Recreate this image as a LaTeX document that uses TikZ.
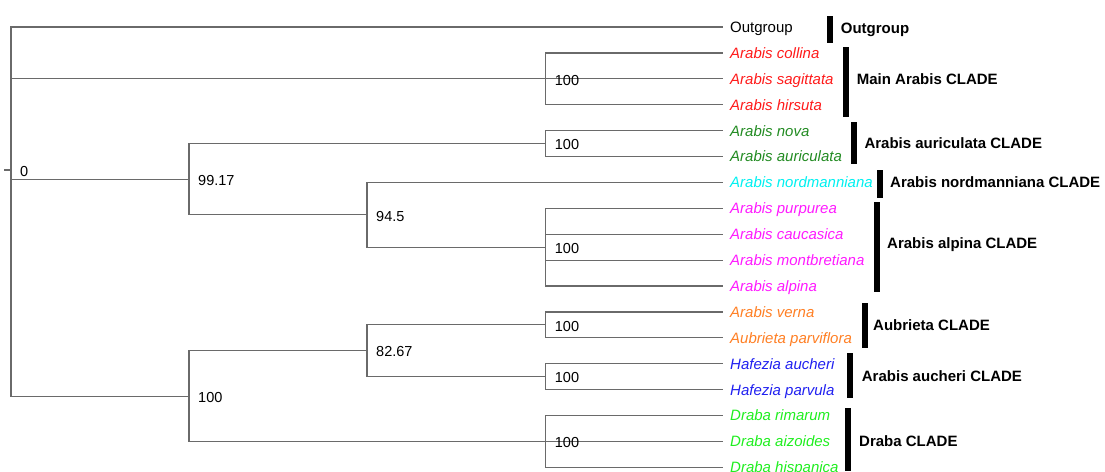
\documentclass[tikz,border=0pt]{standalone}
\usepackage{fontspec}
\setmainfont{Liberation Sans}
\definecolor{lred}{HTML}{FF1A1A}
\definecolor{lfor}{HTML}{228B22}
\definecolor{lcyan}{HTML}{00F0F0}
\definecolor{lmag}{HTML}{FF1AFF}
\definecolor{lora}{HTML}{FF7F24}
\definecolor{lblue}{HTML}{2020F0}
\definecolor{llime}{HTML}{1FEE1F}
\definecolor{branchgray}{HTML}{6A6A6A}
\tikzset{
  branch/.style={draw=branchgray, line width=1.2pt},
  leaf/.style={anchor=base west, inner sep=0pt, xshift=7.3pt, yshift=-5.4pt,
    font=\fontsize{15}{18}\selectfont\itshape},
  num/.style={anchor=base west, inner sep=0pt, xshift=9pt, yshift=-6.2pt,
    font=\fontsize{14.5}{17}\selectfont},
  cladelabel/.style={anchor=base west, inner sep=0pt, yshift=-5.4pt,
    font=\fontsize{15}{18}\selectfont\bfseries},
  cladebar/.style={fill=black, draw=none}
}
\begin{document}
\begin{tikzpicture}[x=1pt,y=-1pt]
\useasboundingbox (0,0) rectangle (1105,471);
% leaf tips
\coordinate (t0) at (722.7,27);
\coordinate (t1) at (722.7,52.9);
\coordinate (t2) at (722.7,78.8);
\coordinate (t3) at (722.7,104.7);
\coordinate (t4) at (722.7,130.6);
\coordinate (t5) at (722.7,156.5);
\coordinate (t6) at (722.7,182.4);
\coordinate (t7) at (722.7,208.3);
\coordinate (t8) at (722.7,234.2);
\coordinate (t9) at (722.7,260.1);
\coordinate (t10) at (722.7,286);
\coordinate (t11) at (722.7,311.9);
\coordinate (t12) at (722.7,337.8);
\coordinate (t13) at (722.7,363.7);
\coordinate (t14) at (722.7,389.6);
\coordinate (t15) at (722.7,415.5);
\coordinate (t16) at (722.7,441.4);
\coordinate (t17) at (722.7,467.3);
% internal nodes
\coordinate (rt) at (4,170);
\coordinate (R) at (11,170);
\coordinate (nMain) at (545.7,78.8);
\coordinate (n9917) at (189,179.3);
\coordinate (nAur) at (545.7,143.55);
\coordinate (n945) at (367,214.8);
\coordinate (nAlp) at (545.7,247.15);
\coordinate (nLow) at (189,396.1);
\coordinate (n8267) at (367,350.75);
\coordinate (nAub) at (545.7,324.85);
\coordinate (nAuc) at (545.7,376.65);
\coordinate (nDra) at (545.7,441.4);
% branches
\draw[branch] (rt) -- (R);
\draw[branch] (R) |- (t0);
\draw[branch] (R) |- (t2);
\draw[branch] (R) |- (n9917);
\draw[branch] (R) |- (nLow);
\draw[branch] (nMain) |- (t1);
\draw[branch] (nMain) |- (t3);
\draw[branch] (n9917) |- (nAur);
\draw[branch] (n9917) |- (n945);
\draw[branch] (nAur) |- (t4);
\draw[branch] (nAur) |- (t5);
\draw[branch] (n945) |- (t6);
\draw[branch] (n945) |- (nAlp);
\draw[branch] (nAlp) |- (t7);
\draw[branch] (nAlp) |- (t8);
\draw[branch] (nAlp) |- (t9);
\draw[branch] (nAlp) |- (t10);
\draw[branch] (nLow) |- (n8267);
\draw[branch] (nLow) |- (t16);
\draw[branch] (n8267) |- (nAub);
\draw[branch] (n8267) |- (nAuc);
\draw[branch] (nAub) |- (t11);
\draw[branch] (nAub) |- (t12);
\draw[branch] (nAuc) |- (t13);
\draw[branch] (nAuc) |- (t14);
\draw[branch] (nDra) |- (t15);
\draw[branch] (nDra) |- (t17);
% support values
\node[num] (lR) at (R) {0};
\node[num] (lMain) at (nMain) {100};
\node[num] (l9917) at (n9917) {99.17};
\node[num] (lAur) at (nAur) {100};
\node[num] (l945) at (n945) {94.5};
\node[num] (lAlp) at (nAlp) {100};
\node[num] (lLow) at (nLow) {100};
\node[num] (l8267) at (n8267) {82.67};
\node[num] (lAub) at (nAub) {100};
\node[num] (lAuc) at (nAuc) {100};
\node[num] (lDra) at (nDra) {100};
% leaf labels
\node[leaf, font=\fontsize{15}{18}\selectfont] (s0) at (t0) {Outgroup};
\node[leaf, text=lred] (s1) at (t1) {Arabis collina};
\node[leaf, text=lred] (s2) at (t2) {Arabis sagittata};
\node[leaf, text=lred] (s3) at (t3) {Arabis hirsuta};
\node[leaf, text=lfor] (s4) at (t4) {Arabis nova};
\node[leaf, text=lfor] (s5) at (t5) {Arabis auriculata};
\node[leaf, text=lcyan] (s6) at (t6) {Arabis nordmanniana};
\node[leaf, text=lmag] (s7) at (t7) {Arabis purpurea};
\node[leaf, text=lmag] (s8) at (t8) {Arabis caucasica};
\node[leaf, text=lmag] (s9) at (t9) {Arabis montbretiana};
\node[leaf, text=lmag] (s10) at (t10) {Arabis alpina};
\node[leaf, text=lora] (s11) at (t11) {Arabis verna};
\node[leaf, text=lora] (s12) at (t12) {Aubrieta parviflora};
\node[leaf, text=lblue] (s13) at (t13) {Hafezia aucheri};
\node[leaf, text=lblue] (s14) at (t14) {Hafezia parvula};
\node[leaf, text=llime] (s15) at (t15) {Draba rimarum};
\node[leaf, text=llime] (s16) at (t16) {Draba aizoides};
\node[leaf, text=llime] (s17) at (t17) {Draba hispanica};
% clade bars
\fill[cladebar] (826.7,15.7) rectangle (832.7,42.7);
\fill[cladebar] (842.5,47.3) rectangle (848.5,116.7);
\fill[cladebar] (851,121.7) rectangle (857,164.3);
\fill[cladebar] (877,170) rectangle (883,197.7);
\fill[cladebar] (873.5,201.7) rectangle (879.5,292);
\fill[cladebar] (861.5,303) rectangle (867.5,347.7);
\fill[cladebar] (847,353) rectangle (853,397.7);
\fill[cladebar] (845,407.7) rectangle (851,471);
% clade labels
\node[cladelabel] (c0) at (840.7,28) {Outgroup};
\node[cladelabel] (c1) at (856.7,79) {Main Arabis CLADE};
\node[cladelabel] (c2) at (864.3,142.7) {Arabis auriculata CLADE};
\node[cladelabel] (c3) at (890,182.3) {Arabis nordmanniana CLADE};
\node[cladelabel] (c4) at (887,243.3) {Arabis alpina CLADE};
\node[cladelabel] (c5) at (873,325) {Aubrieta CLADE};
\node[cladelabel] (c6) at (861.7,375.7) {Arabis aucheri CLADE};
\node[cladelabel] (c7) at (859,440.7) {Draba CLADE};
\end{tikzpicture}
\end{document}
